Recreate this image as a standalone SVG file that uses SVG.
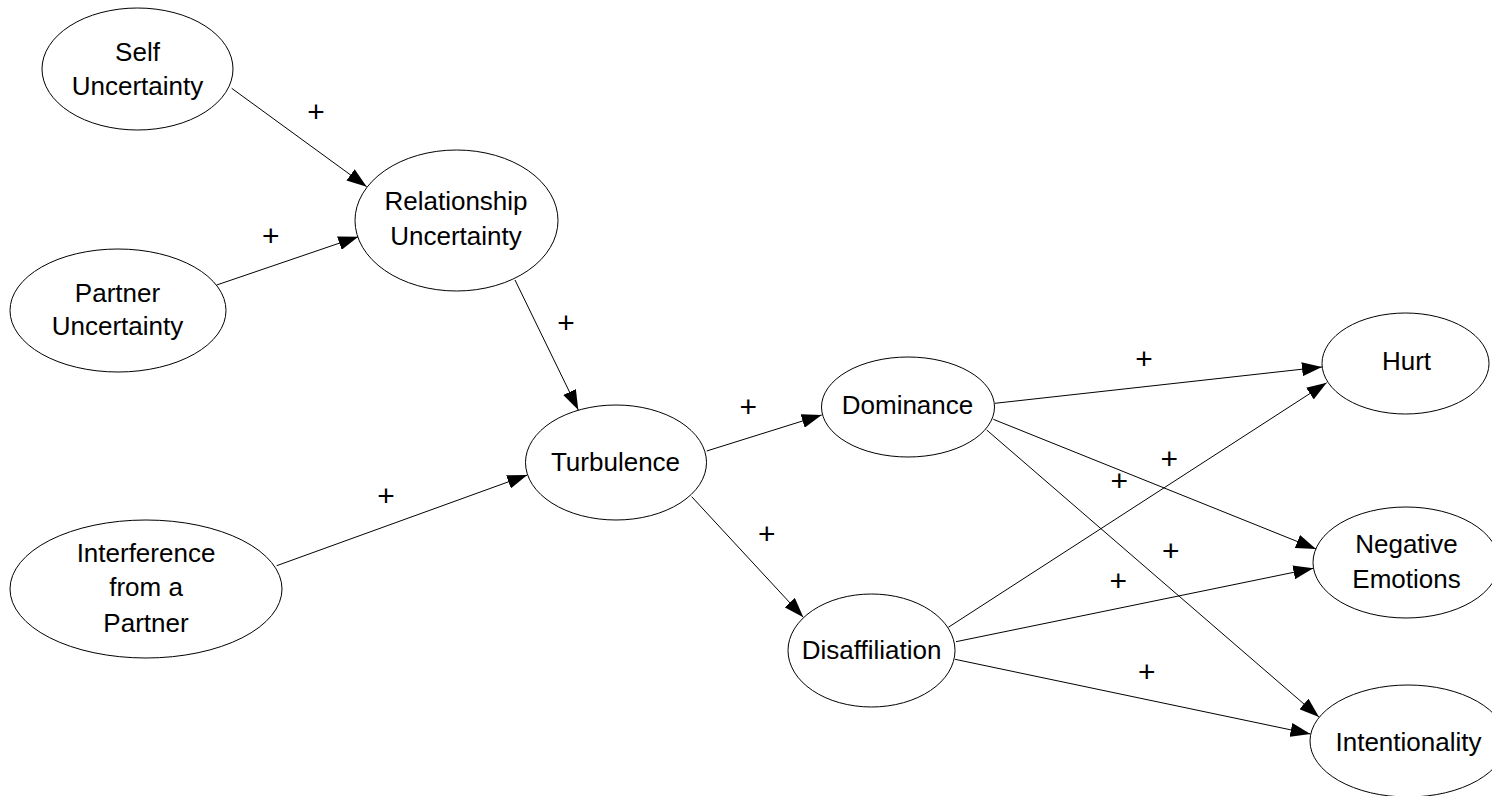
<svg xmlns="http://www.w3.org/2000/svg" width="1492" height="796" viewBox="0 0 1492 796">
  <style>
    .node ellipse { fill: #ffffff; stroke: #000000; stroke-width: 1; }
    .node text, .lbl { font-family: "Liberation Sans", Arial, sans-serif; font-size: 26px; fill: #000000; text-anchor: middle; }
    .lbl { font-size: 30px; }
    .edge { stroke: #000000; stroke-width: 1; fill: none; marker-end: url(#arrow); }
  </style>
  <defs>
    <marker id="arrow" markerUnits="userSpaceOnUse" markerWidth="20" markerHeight="14" refX="20" refY="7" orient="auto">
      <path d="M0,0 L20,7 L0,14 Z" fill="#000000"/>
    </marker>
  </defs>
  <rect width="1492" height="796" fill="#ffffff"/>

  <g id="connectors">
    <line class="edge" x1="231.7" y1="88.3" x2="366.7" y2="186.7"/>
    <line class="edge" x1="216.7" y1="285" x2="358.3" y2="236.7"/>
    <line class="edge" x1="515" y1="280" x2="578.3" y2="410"/>
    <line class="edge" x1="276.7" y1="565.7" x2="527.3" y2="475"/>
    <line class="edge" x1="706.7" y1="451" x2="821.7" y2="415"/>
    <line class="edge" x1="691.7" y1="496.7" x2="803.3" y2="617.3"/>
    <line class="edge" x1="995" y1="403.3" x2="1322" y2="367"/>
    <line class="edge" x1="993.3" y1="419.3" x2="1316" y2="549"/>
    <line class="edge" x1="986.7" y1="430" x2="1319" y2="717"/>
    <line class="edge" x1="948.3" y1="627.3" x2="1326.7" y2="382.7"/>
    <line class="edge" x1="956" y1="641.7" x2="1313.3" y2="568.3"/>
    <line class="edge" x1="955" y1="659.3" x2="1310.5" y2="734"/>
    <text class="lbl" x="316" y="122.3">+</text>
    <text class="lbl" x="270.7" y="245.6">+</text>
    <text class="lbl" x="566" y="333.3">+</text>
    <text class="lbl" x="386" y="505.6">+</text>
    <text class="lbl" x="748.3" y="417.3">+</text>
    <text class="lbl" x="766.7" y="543.9">+</text>
    <text class="lbl" x="1144" y="369">+</text>
    <text class="lbl" x="1169.3" y="468.9">+</text>
    <text class="lbl" x="1119.3" y="490.6">+</text>
    <text class="lbl" x="1170.7" y="560.6">+</text>
    <text class="lbl" x="1118.3" y="591.3">+</text>
    <text class="lbl" x="1146.7" y="682.3">+</text>
  </g>

  <g id="self-uncertainty" class="node">
    <ellipse cx="137.5" cy="69" rx="95.5" ry="61"/>
    <text x="137.5" y="60.5">Self</text>
    <text x="137.5" y="95">Uncertainty</text>
  </g>
  <g id="partner-uncertainty" class="node">
    <ellipse cx="118" cy="310.5" rx="108" ry="61.5"/>
    <text x="117.5" y="301.5">Partner</text>
    <text x="117.5" y="335">Uncertainty</text>
  </g>
  <g id="relationship-uncertainty" class="node">
    <ellipse cx="456.5" cy="220.5" rx="101.5" ry="70.5"/>
    <text x="456" y="210">Relationship</text>
    <text x="456" y="245">Uncertainty</text>
  </g>
  <g id="interference" class="node">
    <ellipse cx="146" cy="589" rx="136" ry="69"/>
    <text x="146" y="561.5">Interference</text>
    <text x="146" y="596">from a</text>
    <text x="146" y="631.5">Partner</text>
  </g>
  <g id="turbulence" class="node">
    <ellipse cx="616" cy="462.5" rx="90.5" ry="57.5"/>
    <text x="615.5" y="470.5">Turbulence</text>
  </g>
  <g id="dominance" class="node">
    <ellipse cx="908" cy="407" rx="86.5" ry="50"/>
    <text x="907.5" y="414">Dominance</text>
  </g>
  <g id="disaffiliation" class="node">
    <ellipse cx="871.5" cy="650.5" rx="83.5" ry="56.5"/>
    <text x="871.5" y="659">Disaffiliation</text>
  </g>
  <g id="hurt" class="node">
    <ellipse cx="1405.5" cy="363.5" rx="83.5" ry="50.5"/>
    <text x="1406.5" y="370">Hurt</text>
  </g>
  <g id="negative-emotions" class="node">
    <ellipse cx="1406" cy="562.5" rx="93" ry="55.5"/>
    <text x="1406.5" y="553">Negative</text>
    <text x="1406.5" y="588">Emotions</text>
  </g>
  <g id="intentionality" class="node">
    <ellipse cx="1408" cy="741" rx="98" ry="56"/>
    <text x="1408.5" y="750.5">Intentionality</text>
  </g>
</svg>
